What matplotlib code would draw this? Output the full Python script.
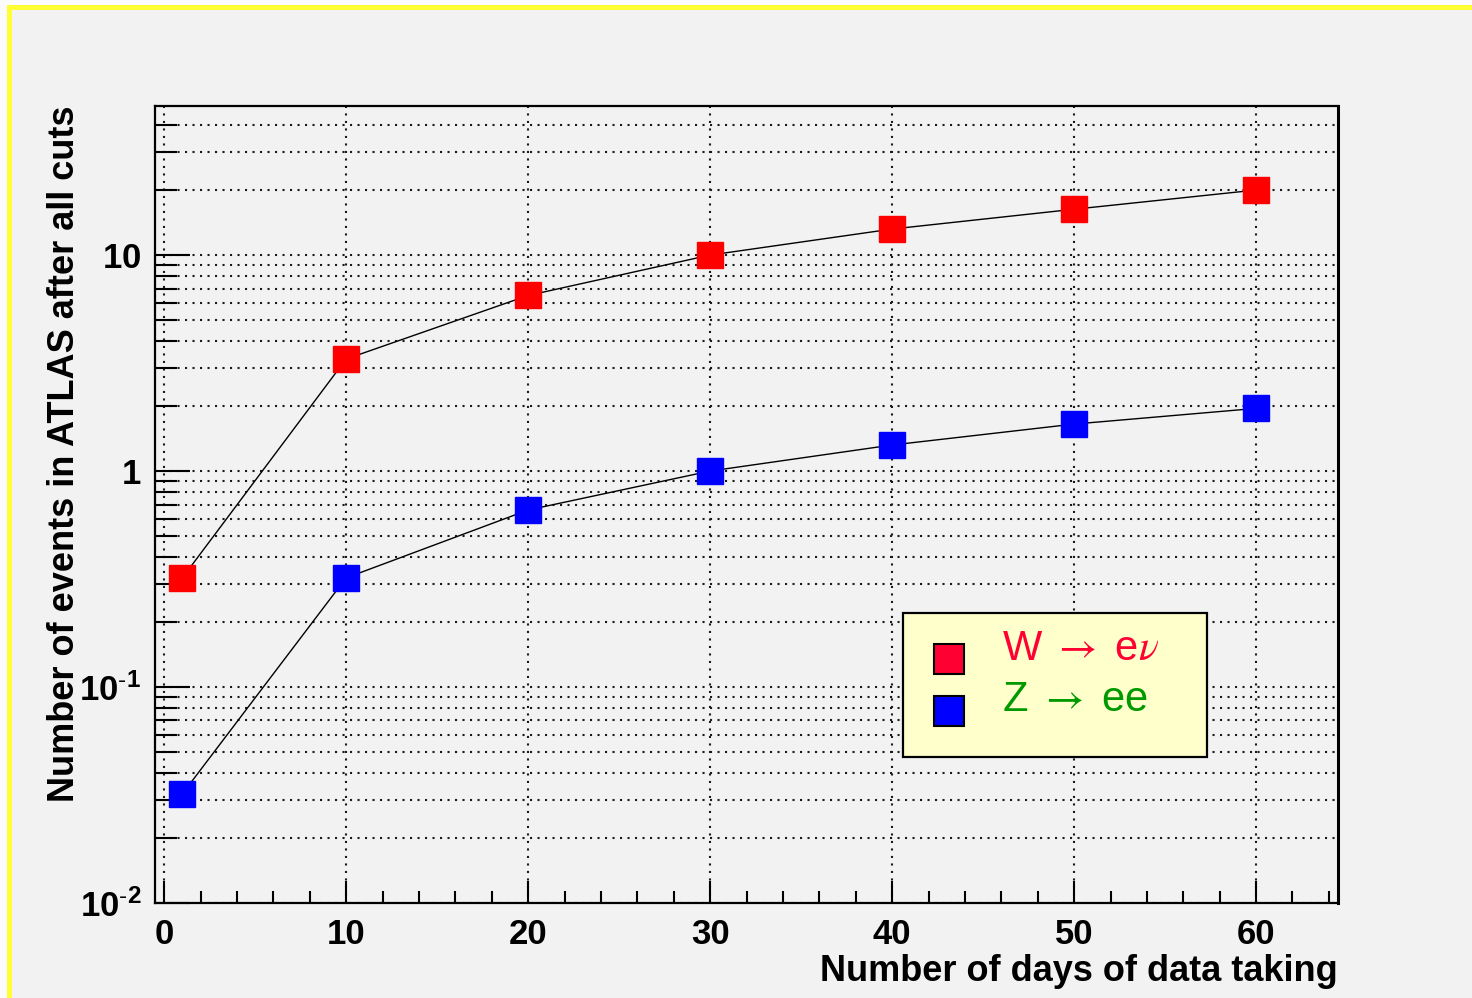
import matplotlib
matplotlib.use("Agg")
import matplotlib.pyplot as plt
from matplotlib.patches import Rectangle
from matplotlib.lines import Line2D
from matplotlib.ticker import FixedLocator, MultipleLocator, LogLocator, NullFormatter

# ---- data ----
days = [1, 10, 20, 30, 40, 50, 60]
w_enu = [0.32, 3.3, 6.5, 10.0, 13.2, 16.3, 20.0]
z_ee = [0.032, 0.32, 0.66, 1.0, 1.32, 1.65, 1.95]
x_ticks = [0, 10, 20, 30, 40, 50, 60]
y_ticks = [0.01, 0.1, 1, 10]
y_tick_labels = [r'$\mathbf{10^{\text{-}2}}$', r'$\mathbf{10^{\text{-}1}}$', r'$\mathbf{1}$', r'$\mathbf{10}$']
legend_labels = [r'W $\rightarrow$ e$\nu$', r'Z $\rightarrow$ ee']
x_title = "Number of days of data taking"
y_title = "Number of events in ATLAS after all cuts"

plt.rcParams['font.family'] = ['Liberation Sans', 'DejaVu Sans']
plt.rcParams['mathtext.fontset'] = 'custom'
plt.rcParams['mathtext.rm'] = 'Liberation Sans'
plt.rcParams['mathtext.bf'] = 'Liberation Sans:bold'

W, H = 1472, 998
fig = plt.figure(figsize=(W / 100, H / 100), dpi=100)
fig.patch.set_facecolor('#f2f2f2')

# outer white margin + yellow border (top and left)
fig.add_artist(Rectangle((0, 1 - 5 / H), 1, 5 / H, transform=fig.transFigure,
                         facecolor='#fbfbfb', edgecolor='none', zorder=0))
fig.add_artist(Rectangle((0, 0), 7 / W, 1, transform=fig.transFigure,
                         facecolor='#fbfbfb', edgecolor='none', zorder=0))
fig.add_artist(Rectangle((7 / W, 1 - 9.5 / H), 1, 4.5 / H, transform=fig.transFigure,
                         facecolor='#ffff33', edgecolor='none', zorder=1))
fig.add_artist(Rectangle((7 / W, 0), 4.5 / W, 1 - 5 / H, transform=fig.transFigure,
                         facecolor='#ffff33', edgecolor='none', zorder=1))

left, right, bottom, top = 155, 1338, 903, 106
ax = fig.add_axes([left / W, 1 - bottom / H, (right - left) / W, (bottom - top) / H])
ax.set_facecolor('#f2f2f2')
ax.set_yscale('log')
ax.set_xlim(-0.5, 64.5)
ax.set_ylim(0.01, 49)

ax.plot(days, w_enu, color='black', lw=1.0, zorder=3)
ax.plot(days, z_ee, color='black', lw=1.0, zorder=3)
ax.plot(days, w_enu, ls='none', marker='s', ms=19, mfc='#ff0000', mec='#ff0000', zorder=4)
ax.plot(days, z_ee, ls='none', marker='s', ms=19, mfc='#0000ff', mec='#0000ff', zorder=4)

# ticks
ax.xaxis.set_major_locator(FixedLocator(x_ticks))
ax.xaxis.set_minor_locator(MultipleLocator(2))
ax.set_xticklabels([str(v) for v in x_ticks])
ax.yaxis.set_major_locator(FixedLocator(y_ticks))
ax.set_yticklabels(y_tick_labels)
ax.yaxis.set_minor_locator(LogLocator(base=10, subs=range(2, 10)))
ax.yaxis.set_minor_formatter(NullFormatter())

ax.tick_params(axis='both', which='both', direction='in', top=False, right=False,
               width=1.5, color='black')
ax.tick_params(axis='x', which='major', length=16, pad=11, labelsize=25)
ax.tick_params(axis='x', which='minor', length=8.5)
ax.tick_params(axis='y', which='major', length=25, pad=10, labelsize=25)
ax.tick_params(axis='y', which='minor', length=16)
for lab in ax.get_xticklabels():
    lab.set_fontweight('bold')

# grid
ax.grid(True, axis='x', which='major', color='#1a1a1a', ls=(0, (1, 2.6)), lw=1.5)
ax.grid(True, axis='y', which='both', color='#1a1a1a', ls=(0, (1, 2.6)), lw=1.5)
ax.set_axisbelow(True)

for s in ax.spines.values():
    s.set_linewidth(1.6)
    s.set_color('black')
ax.spines['right'].set_linewidth(2.2)

ax.set_xlabel(x_title, fontsize=26, fontweight='bold', loc='right', labelpad=2)
ax.set_ylabel(y_title, fontsize=26, fontweight='bold', loc='top')
ax.yaxis.set_label_coords((82 - left) / (right - left), 1.0)

# legend box (ROOT TLegend style)
def ax_frac(px, py):
    return ((px - left) / (right - left), (bottom - py) / (bottom - top))

x0, y0 = ax_frac(903, 757)
x1, y1 = ax_frac(1207, 613)
ax.add_patch(Rectangle((x0, y0), x1 - x0, y1 - y0, transform=ax.transAxes,
                       facecolor='#ffffcc', edgecolor='black', lw=1.6, zorder=5))
leg_colors = ['#ff0033', '#0000ff']
text_colors = ['#ff0033', '#009900']
marker_y = [659, 711]
text_y = [649, 700]
for lab, mc, tc, my, ty in zip(legend_labels, leg_colors, text_colors, marker_y, text_y):
    mx, myf = ax_frac(949, my)
    ax.add_line(Line2D([mx], [myf], transform=ax.transAxes, ls='none', marker='s',
                       ms=21, mfc=mc, mec='black', mew=1.5, zorder=6))
    tx, tyf = ax_frac(1002, ty)
    ax.text(tx, tyf, lab, transform=ax.transAxes, color=tc, fontsize=30,
            va='center', ha='left', zorder=6, math_fontfamily='stix')

fig.savefig('out.png', dpi=100, facecolor=fig.get_facecolor())
